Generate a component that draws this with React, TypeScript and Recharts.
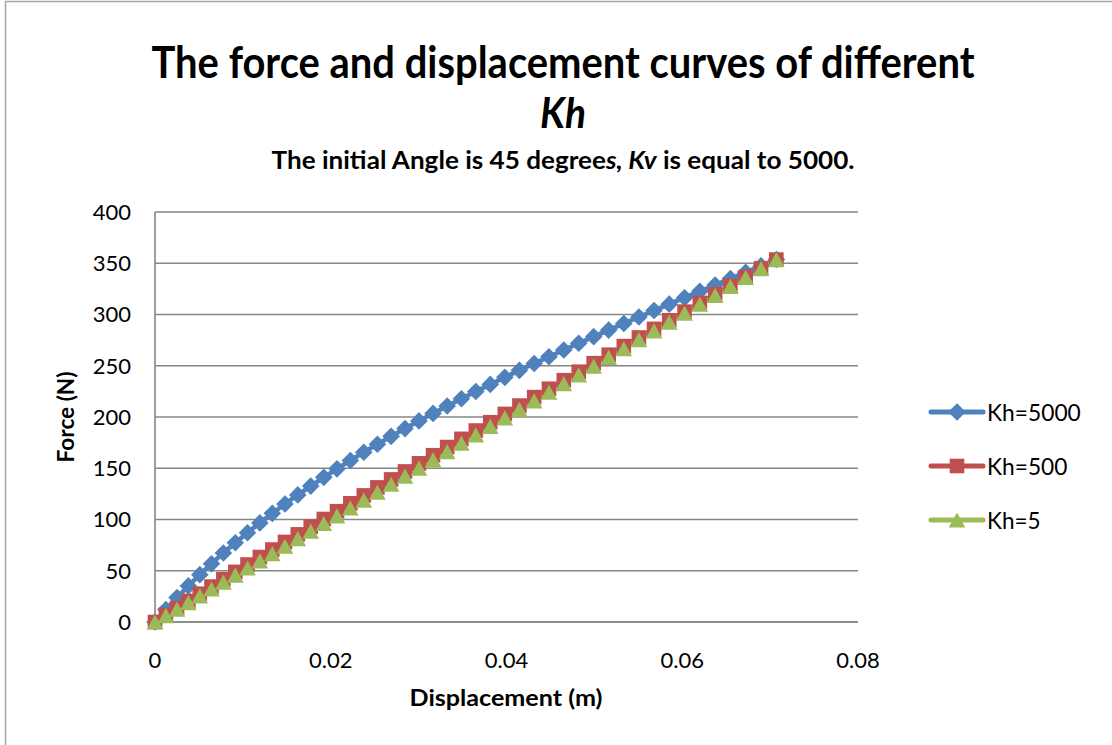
import React from 'react';
import { LineChart, Line, XAxis, YAxis, CartesianGrid } from 'recharts';

const displacement = [
  0, 0.00124, 0.00251, 0.0038, 0.0051, 0.00643, 0.00778, 0.00914, 0.01053, 0.01193,
  0.01335, 0.01479, 0.01625, 0.01772, 0.01921, 0.02071, 0.02223, 0.02376, 0.02531, 0.02687,
  0.02845, 0.03004, 0.03164, 0.03325, 0.03487, 0.03651, 0.03815, 0.03981, 0.04147, 0.04315,
  0.04483, 0.04652, 0.04822, 0.04992, 0.05163, 0.05335, 0.05507, 0.05679, 0.05852, 0.06026,
  0.062, 0.06374, 0.06548, 0.06722, 0.06897, 0.07071,
];

const kh5000 = [
  0, 12.1, 23.9, 35.2, 46.2, 56.9, 67.3, 77.3, 87.1, 96.7,
  106.0, 115.1, 124.0, 132.6, 141.1, 149.4, 157.6, 165.6, 173.4, 181.1,
  188.7, 196.2, 203.5, 210.7, 217.8, 224.9, 231.8, 238.7, 245.5, 252.2,
  258.8, 265.4, 271.9, 278.4, 284.8, 291.2, 297.6, 303.9, 310.1, 316.4,
  322.6, 328.8, 335.0, 341.2, 347.4, 353.6,
];

const kh500 = [
  0, 6.8, 13.7, 20.6, 27.6, 34.6, 41.7, 48.9, 56.1, 63.4,
  70.7, 78.1, 85.5, 93.0, 100.5, 108.1, 115.8, 123.5, 131.3, 139.1,
  146.9, 154.8, 162.7, 170.7, 178.7, 186.8, 194.9, 203.0, 211.2, 219.4,
  227.6, 235.9, 244.2, 252.5, 260.8, 269.2, 277.6, 286.0, 294.4, 302.8,
  311.3, 319.7, 328.2, 336.6, 345.1, 353.6,
];

const kh5 = [
  0, 6.2, 12.6, 19.0, 25.5, 32.2, 38.9, 45.8, 52.7, 59.7,
  66.8, 74.0, 81.3, 88.6, 96.1, 103.6, 111.2, 118.9, 126.6, 134.4,
  142.3, 150.2, 158.2, 166.3, 174.4, 182.6, 190.8, 199.1, 207.4, 215.8,
  224.2, 232.6, 241.1, 249.6, 258.2, 266.8, 275.4, 284.0, 292.6, 301.3,
  310.0, 318.7, 327.4, 336.1, 344.8, 353.6,
];

const xTicks = [0, 0.02, 0.04, 0.06, 0.08];
const yTicks = [0, 50, 100, 150, 200, 250, 300, 350, 400];
const seriesNames = ['Kh=5000', 'Kh=500', 'Kh=5'];

const BLUE = '#4F81BD';
const RED = '#C0504D';
const GREEN = '#9BBB59';
const GRID = '#868686';
const FONT = 'Lato, Carlito, Calibri, sans-serif';

const data = displacement.map((d, i) => ({
  d,
  a: kh5000[i],
  b: kh500[i],
  c: kh5[i],
}));

const Diamond = (props: any) => {
  const { cx, cy } = props;
  if (cx == null || cy == null) return null;
  const r = 8.8;
  return <path d={`M${cx},${cy - r}L${cx + r},${cy}L${cx},${cy + r}L${cx - r},${cy}Z`} fill={BLUE} />;
};
const Square = (props: any) => {
  const { cx, cy } = props;
  if (cx == null || cy == null) return null;
  const r = 7.3;
  return <rect x={cx - r} y={cy - r} width={2 * r} height={2 * r} fill={RED} />;
};
const Triangle = (props: any) => {
  const { cx, cy } = props;
  if (cx == null || cy == null) return null;
  const w = 8.3;
  const h = 7.6;
  return <path d={`M${cx},${cy - h}L${cx + w},${cy + h}L${cx - w},${cy + h}Z`} fill={GREEN} />;
};

const legendItems = [
  { name: seriesNames[0], color: BLUE, shape: 'diamond' },
  { name: seriesNames[1], color: RED, shape: 'square' },
  { name: seriesNames[2], color: GREEN, shape: 'triangle' },
];

const tickStyle = { fill: '#000', fontSize: 22, fontFamily: FONT };

export default function App() {
  return (
    <div style={{ position: 'absolute', left: 0, top: 0, width: 1112, height: 745, background: '#fff' }}>
      <LineChart
        width={1112}
        height={745}
        data={data}
        margin={{ top: 212, right: 254, left: 95, bottom: 83 }}
      >
        <CartesianGrid vertical={false} stroke={GRID} strokeWidth={1.6} />
        <XAxis
          dataKey="d"
          type="number"
          domain={[0, 0.08]}
          ticks={xTicks}
          tickFormatter={(v: number) => String(v)}
          axisLine={{ stroke: GRID, strokeWidth: 1.6 }}
          tickLine={false}
          tickSize={0}
          tickMargin={30}
          height={40}
          tick={tickStyle}
        />
        <YAxis
          type="number"
          domain={[0, 400]}
          ticks={yTicks}
          axisLine={{ stroke: GRID, strokeWidth: 1.6 }}
          tickLine={false}
          tickSize={0}
          tickMargin={24}
          width={60}
          tick={tickStyle}
        />
        <Line dataKey="a" name={seriesNames[0]} stroke={BLUE} strokeWidth={4.5} dot={<Diamond />} isAnimationActive={false} />
        <Line dataKey="b" name={seriesNames[1]} stroke={RED} strokeWidth={4.5} dot={<Square />} isAnimationActive={false} />
        <Line dataKey="c" name={seriesNames[2]} stroke={GREEN} strokeWidth={4.5} dot={<Triangle />} isAnimationActive={false} />
      </LineChart>
      <svg
        width={1112}
        height={745}
        style={{ position: 'absolute', left: 0, top: 0, pointerEvents: 'none' }}
      >
        <line x1={5.5} y1={1} x2={5.5} y2={745} stroke="#A6A6A6" strokeWidth={1.5} />
        <line x1={5} y1={1.5} x2={1112} y2={1.5} stroke="#A6A6A6" strokeWidth={1.5} />
        <text x={563} y={78} textAnchor="middle" fontFamily={FONT} fontWeight="bold" fontSize={44}
          textLength={823} lengthAdjust="spacingAndGlyphs" fill="#000">
          The force and displacement curves of different
        </text>
        <text x={563} y={128} textAnchor="middle" fontFamily={FONT} fontWeight="bold" fontStyle="italic" fontSize={42}
          textLength={46} lengthAdjust="spacingAndGlyphs" fill="#000">
          Kh
        </text>
        <text x={563} y={169} textAnchor="middle" fontFamily={FONT} fontWeight="bold" fontSize={25}
          textLength={583} lengthAdjust="spacingAndGlyphs" fill="#000">
          The initial Angle is 45 degree<tspan fontStyle="italic">s, Kv</tspan> is equal to 5000.
        </text>
        <text x={506} y={706} textAnchor="middle" fontFamily={FONT} fontWeight="bold" fontSize={23}
          textLength={193} lengthAdjust="spacingAndGlyphs" fill="#000">
          Displacement (m)
        </text>
        <text x={0} y={0} transform="translate(74,417) rotate(-90)" textAnchor="middle" fontFamily={FONT} fontWeight="bold" fontSize={23}
          textLength={91} lengthAdjust="spacingAndGlyphs" fill="#000">
          Force (N)
        </text>
        {legendItems.map((it, i) => {
          const y = 412 + i * 54;
          return (
            <g key={it.name}>
              <line x1={931} y1={y} x2={983} y2={y} stroke={it.color} strokeWidth={5} strokeLinecap="round" />
              {it.shape === 'diamond' && <Diamond cx={957} cy={y} />}
              {it.shape === 'square' && <Square cx={957} cy={y} />}
              {it.shape === 'triangle' && <Triangle cx={957} cy={y} />}
              <text x={987} y={y} dy="0.36em" fontFamily={FONT} fontSize={24} textLength={it.name.length * 13.4}
                lengthAdjust="spacingAndGlyphs" fill="#000">
                {it.name}
              </text>
            </g>
          );
        })}
      </svg>
    </div>
  );
}
